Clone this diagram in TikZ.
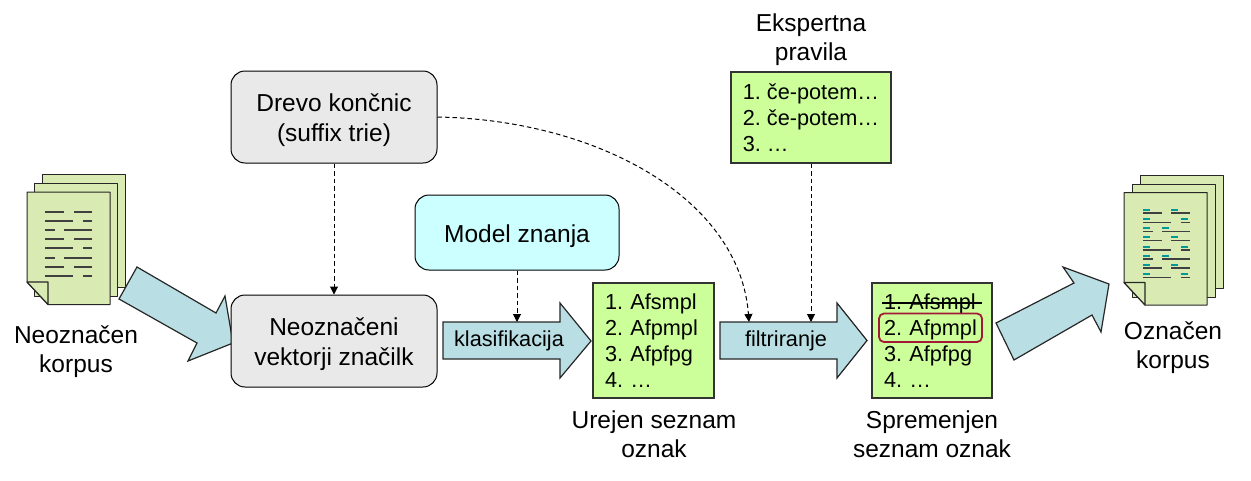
\documentclass[tikz,border=0pt]{standalone}
\usepackage{fontspec}
\setmainfont{Liberation Sans}
\usetikzlibrary{arrows.meta}
\definecolor{pagefill}{HTML}{D9EAB2}
\definecolor{arrowfill}{HTML}{B9DEE3}
\definecolor{listfill}{HTML}{CCFF99}
\definecolor{modelfill}{HTML}{CCFFFF}
\definecolor{greyfill}{HTML}{E9E9E9}
\definecolor{markred}{HTML}{A31A38}
\definecolor{tealmark}{HTML}{009999}
\newcommand{\topstrut}{\rule{0pt}{25pt}}
\tikzset{
  x=1pt,y=-1pt,
  big/.style={font=\fontsize{24.5}{29}\selectfont,align=center,inner sep=0pt},
  small/.style={font=\fontsize{21.7}{26}\selectfont,inner sep=0pt},
  roundbox/.style={draw=black,line width=1pt,rounded corners=14pt,font=\fontsize{24.5}{30}\selectfont,align=center,inner sep=0pt,minimum width=206pt,minimum height=92pt,fill=greyfill},
  listbox/.style={draw=black!80,line width=1.2pt,fill=listfill,font=\fontsize{21.7}{26}\selectfont\frenchspacing,align=left,inner sep=0pt},
  blockarrow/.style={draw=black!85,line width=1.2pt,fill=arrowfill,line join=miter},
  page/.style={draw=black!85,line width=1pt,fill=pagefill,line join=round},
  conn/.style={dash pattern=on 4.5pt off 3pt,line width=1pt,-{Triangle[length=8pt,width=8pt]}},
  txtline/.style={line width=1.2pt,black!75},
  tealdash/.style={line width=2pt,tealmark},
}
\newcommand{\backsheet}[2]{%
  \draw[page] (#1,#2) -- ++(83,0) -- ++(0,113) -- ++(-83,0) -- cycle;
}
\newcommand{\frontsheet}[2]{%
  \draw[page] (#1,#2) -- ++(83,0) -- ++(0,112.5) -- ++(-62,0) -- ++(-21,-22.5) -- cycle;
  \draw[page,line width=1.2pt] (#1,#2) ++(0,90) -- ++(21,0) -- ++(0,22.5) -- cycle;
}
\begin{document}
\begin{tikzpicture}
\useasboundingbox (0,0) rectangle (1251,480);

% left document stack
\backsheet{42}{174}
\backsheet{34}{183}
\frontsheet{27}{192}
\foreach \y/\a/\b/\c/\d in {212/45/64/74/92,221/45/73/83/92,230/45/55/64/92,239/45/64/74/92,248/45/73/83/92,258/45/55/64/92,267/45/64/74/92,276/45/73/83/92}{
  \draw[txtline] (\a,\y) -- (\b,\y);
  \draw[txtline] (\c,\y) -- (\d,\y);
}
\node[big] (neokorpus) at (76,352) {Neoznačen\\korpus};

% right document stack
\backsheet{1140}{175}
\backsheet{1132}{184}
\frontsheet{1124}{192.5}
\foreach \y/\a/\b/\c/\d in {213/1143/1162/1171/1190,222.3/1143/1171/1181/1190,231.3/1143/1153/1162/1190,240.6/1143/1162/1171/1190,250/1143/1171/1181/1190,259/1143/1153/1162/1190,268/1143/1162/1171/1190,277.6/1143/1171/1181/1190}{
  \draw[txtline] (\a,\y) -- (\b,\y);
  \draw[txtline] (\c,\y) -- (\d,\y);
  \draw[tealdash] (\a,\y-3.2) -- ++(6.5,0);
  \draw[tealdash] (\c,\y-3.2) -- ++(6.5,0);
}
\node[big] (ozkorpus) at (1173,348) {Označen\\korpus};

% big diagonal arrows
\draw[blockarrow] (137,267) -- (216,313) -- (225,296) -- (233,343) -- (188,361) -- (197,343) -- (119,299) -- cycle;
\draw[blockarrow] (996,323) -- (1074,283) -- (1063,267) -- (1109,284) -- (1101,332) -- (1092,315) -- (1014,360) -- cycle;

% rounded boxes
\node[roundbox] (drevo) at (334,117) {\topstrut Drevo končnic\\(suffix trie)};
\node[roundbox] (vektorji) at (334,341) {\topstrut Neoznačeni\\vektorji značilk};
\node[roundbox,fill=modelfill,minimum width=204pt,minimum height=75pt] (model) at (517,232.5) {\topstrut Model znanja};

% classification arrows
\draw[blockarrow] (443,322) -- (560,322) -- (560,303) -- (591,341) -- (560,378) -- (560,359) -- (443,359) -- cycle;
\node[small] (klas) at (509,341) {klasifikacija};
\draw[blockarrow] (720,322) -- (837,322) -- (837,303) -- (867,340.5) -- (837,378) -- (837,359) -- (720,359) -- cycle;
\node[small] (filt) at (786,341) {filtriranje};
\coordinate (klastop) at (517,322);
\coordinate (filttop) at (811,322);
\coordinate (filtcurve) at (749,322);

% lists
\node[listbox,minimum width=121pt,minimum height=115pt,text width=97pt] (list1) at (653.5,340.5)
  {1. Afsmpl\\2. Afpmpl\\3. Afpfpg\\4. …};
\node[listbox,minimum width=120pt,minimum height=115pt,text width=96pt] (list2) at (932,340.5)
  {1. Afsmpl\\2. Afpmpl\\3. Afpfpg\\4. …};
\node[listbox,minimum width=160pt,minimum height=91pt] (rules) at (811,117.5)
  {1. če-potem…\\2. če-potem…\\3. …};

% strike-through and highlight in second list
\coordinate (strikeL) at (882,303);
\coordinate (strikeR) at (982,303);
\draw[line width=1.6pt,black] (strikeL) -- (strikeR);
\draw[markred,line width=1.8pt,rounded corners=5pt] (879,313.5) rectangle (982,342);

% captions
\node[big] (urejen) at (654,434.5) {Urejen seznam\\oznak};
\node[big] (spremenjen) at (932,434.5) {Spremenjen\\seznam oznak};
\node[big] (ekspertna) at (811,39.5) {Ekspertna\\pravila};

% dashed connectors
\draw[conn] (drevo.south) -- (vektorji.north);
\draw[conn] (model.south) -- (klastop);
\draw[conn] (rules.south) -- (filttop);
\draw[conn] (drevo.east) .. controls (600,120) and (740,200) .. (filtcurve);
\end{tikzpicture}
\end{document}
